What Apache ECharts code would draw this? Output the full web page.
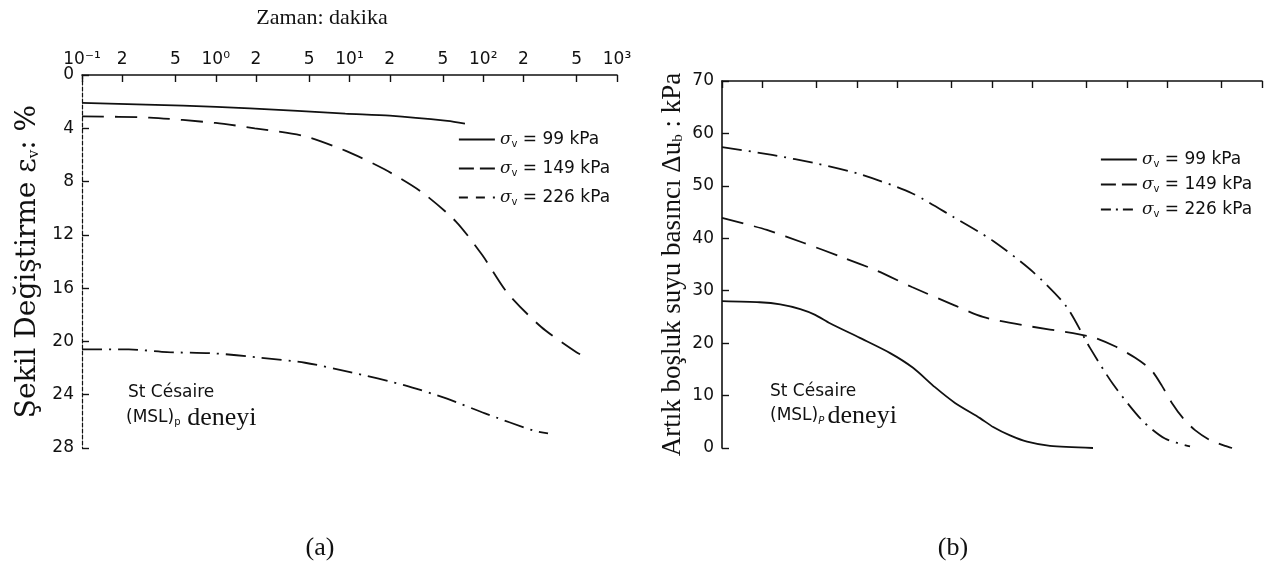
<!DOCTYPE html>
<html>
<head>
<meta charset="utf-8">
<script src="https://cdn.jsdelivr.net/npm/echarts@6/dist/echarts.min.js"></script>
<style>
  html, body { margin: 0; padding: 0; background: #fff; }
  #chart { width: 1277px; height: 578px; }
</style>
</head>
<body>
<div id="chart"></div>
<script>
// Time axis (minutes, log scale): tick positions and their labels
const timeTicks = [0.1, 0.2, 0.5, 1, 2, 5, 10, 20, 50, 100, 200, 500, 1000];
const timeTickLabels = ['10⁻¹', '2', '5', '10⁰', '2', '5', '10¹', '2', '5', '10²', '2', '5', '10³'];

const seriesNames = ['σv = 99 kPa', 'σv = 149 kPa', 'σv = 226 kPa'];

// (a) vertical strain εv (%) against time
const strainTime99  = [0.1, 0.57, 1.8, 9.3, 20, 54, 73];
const strain99      = [2.1, 2.3, 2.5, 2.9, 3.05, 3.45, 3.65];
const strainTime149 = [0.1, 0.32, 1.0, 1.96, 4.65, 9.4, 18.4, 34.8, 62.5, 98, 150, 270, 494, 597];
const strain149     = [3.1, 3.2, 3.6, 4.0, 4.6, 5.7, 7.1, 8.8, 11.0, 13.5, 16.3, 18.9, 20.8, 21.2];
const strainTime226 = [0.1, 0.224, 0.432, 0.987, 2.07, 4.65, 10.1, 26, 53.6, 103, 239, 305];
const strain226     = [20.6, 20.6, 20.8, 20.9, 21.2, 21.6, 22.3, 23.3, 24.3, 25.4, 26.7, 26.9];

// (b) excess pore water pressure Δub (kPa) against time
const poreTime99  = [0.1, 0.19, 0.27, 0.38, 0.49, 0.63, 1.05, 1.76, 2.6, 3.78, 5.32, 8.15, 10.2, 13.6, 18.2, 26.9, 56];
const pore99      = [28.0, 27.8, 27.4, 26.5, 25.4, 23.8, 21.0, 18.1, 15.3, 11.6, 8.6, 5.7, 4.0, 2.4, 1.2, 0.4, 0];
const poreTime149 = [0.1, 0.215, 0.405, 0.774, 1.41, 2.55, 4.97, 8.57, 18.2, 39.8, 58, 83, 115, 151, 182, 215, 260, 319, 412, 532, 600];
const pore149     = [43.9, 41.6, 39.1, 36.4, 33.8, 30.7, 27.5, 25.0, 23.3, 21.9, 21.0, 19.3, 17.2, 14.9, 11.8, 8.6, 5.7, 3.4, 1.5, 0.4, 0];
const poreTime226 = [0.1, 0.235, 0.514, 1.09, 2.55, 5.14, 10.2, 20.1, 35.3, 53.2, 78.7, 129, 191, 293];
const pore226     = [57.4, 55.9, 54.2, 52.1, 48.6, 44.1, 39.5, 33.6, 27.1, 19.1, 12.2, 5.3, 1.8, 0.3];

const INK = '#111';
const SANS = 'DejaVu Sans';
const SERIF = 'Liberation Serif';

const zip = (xs, ys) => xs.map((x, i) => [x, ys[i]]);

function tickLabel(v) {
  const i = timeTicks.findIndex(t => Math.abs(Math.log10(t) - Math.log10(v)) < 1e-6);
  return i < 0 ? '' : timeTickLabels[i];
}

const dashStyles = ['solid', [22, 11], [20, 7, 2, 7]];

function curve(name, gi, data, k) {
  return {
    name: name,
    type: 'line',
    xAxisIndex: gi,
    yAxisIndex: gi,
    data: data,
    symbol: 'none',
    smooth: 0.25,
    color: INK,
    lineStyle: { color: INK, width: 1.8, type: dashStyles[k] },
    silent: true
  };
}

function timeAxis(gi, showLabels) {
  return {
    type: 'log',
    logBase: 10,
    gridIndex: gi,
    position: 'top',
    min: 0.1,
    max: 1000,
    axisLine: { onZero: false, lineStyle: { color: INK, width: 1.6 } },
    axisTick: { inside: true, length: 7, customValues: timeTicks, lineStyle: { color: INK, width: 1.4 } },
    axisLabel: {
      show: showLabels,
      customValues: timeTicks,
      formatter: tickLabel,
      margin: 7,
      fontFamily: SANS,
      fontSize: 17,
      color: INK
    },
    splitLine: { show: false },
    minorTick: { show: false }
  };
}

const legendText = {
  fontFamily: SANS,
  fontSize: 17,
  color: INK,
  rich: {
    s: { fontFamily: 'DejaVu Serif', fontStyle: 'italic', fontSize: 17, color: INK },
    sub: { fontFamily: SANS, fontSize: 10, color: INK, padding: [9, 0, 0, 0] }
  }
};
const legendFormatter = name => name.replace(/^σv/, '{s|σ}{sub|v}');

function legendItems(dashes) {
  return seriesNames.map((n, i) => ({ name: n, lineStyle: { type: dashes[i], width: 1.8 } }));
}

const chart = echarts.init(document.getElementById('chart'), null, { renderer: 'canvas' });

chart.setOption({
  backgroundColor: '#fff',
  animation: false,
  grid: [
    { left: 82, top: 75, width: 535, height: 373 },
    { left: 722, top: 81, width: 540, height: 367 }
  ],
  xAxis: [timeAxis(0, true), timeAxis(1, false)],
  yAxis: [
    {
      type: 'value',
      gridIndex: 0,
      inverse: true,
      min: 0,
      max: 28,
      interval: 4,
      name: '{t|Şekil Değiştirme ε}{sub|v}{t|: %}',
      nameLocation: 'middle',
      nameRotate: 90,
      nameGap: 40,
      nameMoveOverlap: false,
      nameTextStyle: {
        rich: {
          t: { fontFamily: 'DejaVu Serif', fontSize: 28, color: INK },
          sub: { fontFamily: 'DejaVu Serif', fontSize: 15, color: INK, padding: [12, 0, 0, 0] }
        }
      },
      axisLine: { show: true, onZero: false, lineStyle: { color: INK, width: 1.2, type: [4, 2] } },
      axisTick: { inside: true, length: 7, lineStyle: { color: INK, width: 1.4 } },
      axisLabel: { margin: 8, fontFamily: SANS, fontSize: 17, color: INK },
      splitLine: { show: false }
    },
    {
      type: 'value',
      gridIndex: 1,
      min: 0,
      max: 70,
      interval: 10,
      name: '{t|Artık boşluk suyu basıncı Δu}{sub|b}{t| : kPa}',
      nameLocation: 'middle',
      nameRotate: 90,
      nameGap: 36,
      nameMoveOverlap: false,
      nameTextStyle: {
        rich: {
          t: { fontFamily: SERIF, fontSize: 27, color: INK },
          sub: { fontFamily: SERIF, fontSize: 15, color: INK, padding: [12, 0, 0, 0] }
        }
      },
      axisLine: { show: true, onZero: false, lineStyle: { color: INK, width: 1.6 } },
      axisTick: { inside: true, length: 7, lineStyle: { color: INK, width: 1.4 } },
      axisLabel: { margin: 8, fontFamily: SANS, fontSize: 17, color: INK },
      splitLine: { show: false }
    }
  ],
  legend: [
    {
      data: legendItems(['solid', [15, 6], [9, 8]]),
      orient: 'vertical',
      left: 453,
      top: 126,
      itemWidth: 36,
      itemHeight: 14,
      itemGap: 11,
      selectedMode: false,
      itemStyle: { opacity: 0 },
      formatter: legendFormatter,
      textStyle: legendText
    },
    {
      data: legendItems(['solid', [15, 6], [10, 5, 2, 5]]),
      orient: 'vertical',
      left: 1095,
      top: 146,
      itemWidth: 36,
      itemHeight: 14,
      itemGap: 7,
      selectedMode: false,
      itemStyle: { opacity: 0 },
      formatter: legendFormatter,
      textStyle: legendText
    }
  ],
  series: [
    curve(seriesNames[0], 0, zip(strainTime99, strain99), 0),
    curve(seriesNames[1], 0, zip(strainTime149, strain149), 1),
    curve(seriesNames[2], 0, zip(strainTime226, strain226), 2),
    curve(seriesNames[0], 1, zip(poreTime99, pore99), 0),
    curve(seriesNames[1], 1, zip(poreTime149, pore149), 1),
    curve(seriesNames[2], 1, zip(poreTime226, pore226), 2)
  ],
  graphic: [
    {
      type: 'text', x: 322, y: 18, silent: true,
      style: { text: 'Zaman: dakika', font: '22px "Liberation Serif"', fill: INK, align: 'center', verticalAlign: 'middle' }
    },
    {
      type: 'text', x: 128, y: 393, silent: true,
      style: { text: 'St Césaire', font: '17px "DejaVu Sans"', fill: INK, align: 'left', verticalAlign: 'middle' }
    },
    {
      type: 'text', x: 126, y: 418, silent: true,
      style: {
        text: '{a|(MSL)}{p|p}  {d|deneyi}', align: 'left', verticalAlign: 'middle',
        rich: {
          a: { fontFamily: SANS, fontSize: 17, fill: INK },
          p: { fontFamily: SANS, fontSize: 10, fill: INK, padding: [9, 0, 0, 0] },
          d: { fontFamily: SERIF, fontSize: 26, fill: INK }
        }
      }
    },
    {
      type: 'text', x: 770, y: 392, silent: true,
      style: { text: 'St Césaire', font: '17px "DejaVu Sans"', fill: INK, align: 'left', verticalAlign: 'middle' }
    },
    {
      type: 'text', x: 770, y: 416, silent: true,
      style: {
        text: '{a|(MSL)}{p|P} {d|deneyi}', align: 'left', verticalAlign: 'middle',
        rich: {
          a: { fontFamily: SANS, fontSize: 17, fill: INK },
          p: { fontFamily: SANS, fontStyle: 'italic', fontSize: 10, fill: INK, padding: [10, 0, 0, 0] },
          d: { fontFamily: SERIF, fontSize: 26, fill: INK }
        }
      }
    },
    {
      type: 'text', x: 320, y: 548, silent: true,
      style: { text: '(a)', font: '26px "Liberation Serif"', fill: INK, align: 'center', verticalAlign: 'middle' }
    },
    {
      type: 'text', x: 953, y: 548, silent: true,
      style: { text: '(b)', font: '26px "Liberation Serif"', fill: INK, align: 'center', verticalAlign: 'middle' }
    }
  ]
});
</script>
</body>
</html>
